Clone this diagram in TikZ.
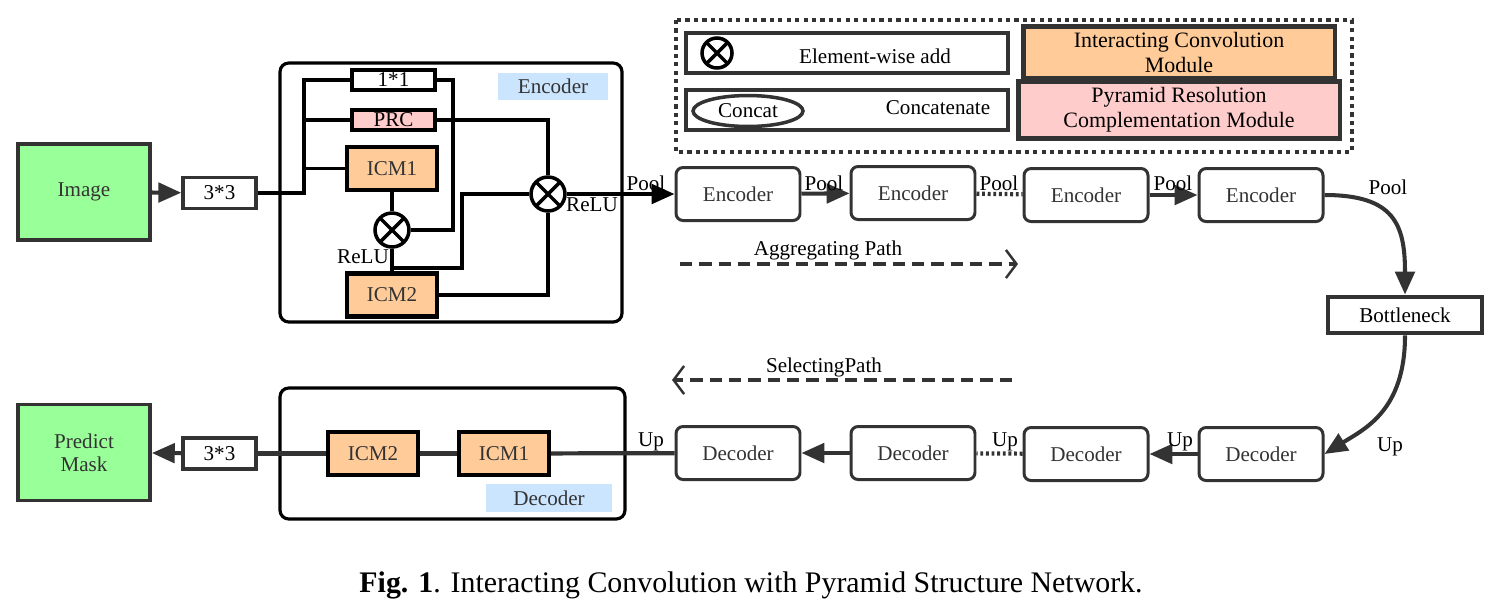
\documentclass[tikz,border=0pt]{standalone}
\usepackage{fontspec}
\setmainfont{Liberation Serif}
\usepackage{tikz}
\usetikzlibrary{shapes,arrows.meta,positioning}

\definecolor{imggreen}{HTML}{99FF99}
\definecolor{icmorange}{HTML}{FFCC99}
\definecolor{prcpink}{HTML}{FFCCCC}
\definecolor{tagblue}{HTML}{CCE5FF}
\definecolor{edge}{HTML}{333333}

\begin{document}
\begin{tikzpicture}[x=0.02cm,y=-0.02cm,font=\fontsize{12}{13}\selectfont,line width=1.6pt,
  >={Triangle[length=13pt,width=11pt]},
  io/.style={draw=edge,line width=2.2pt,fill=imggreen,minimum width=2.64cm,minimum height=1.92cm,align=center,text=edge},
  conv/.style={draw=edge,line width=2pt,minimum width=1.46cm,minimum height=0.62cm,inner sep=0pt},
  thinbox/.style={draw,line width=2pt,minimum width=1.66cm,minimum height=0.4cm,inner sep=0pt},
  icm/.style={draw,line width=2.3pt,fill=icmorange,minimum width=1.8cm,minimum height=0.86cm,text=edge},
  addop/.style={circle,draw,line width=2pt,minimum size=0.68cm,inner sep=0pt,fill=white,
    path picture={\draw[line width=2pt] (path picture bounding box.south west) -- (path picture bounding box.north east)
      (path picture bounding box.north west) -- (path picture bounding box.south east);}},
  stage/.style={draw=edge,rounded corners=4pt,line width=1.7pt,minimum width=2.48cm,minimum height=1.06cm,text=edge},
  tag/.style={fill=tagblue,minimum width=2.3cm,minimum height=0.54cm,text=edge},
  flow/.style={->,line width=2.3pt,draw=edge},
  skip/.style={line width=2.4pt,draw=edge,dash pattern=on 1.6pt off 1.6pt},
  route/.style={line width=1.8pt,draw=edge,dash pattern=on 7pt off 4pt,-{Straight Barb[length=6pt,width=16pt,line width=1.4pt]}},
  legend/.style={draw=edge,line width=2.2pt,minimum width=6.44cm,minimum height=0.8cm}]
\useasboundingbox (0,0) rectangle (1506,610);

% input side
\node[io] (img) at (84,192) {\raisebox{-3pt}{Image}};
\node[conv] (convin) at (219.5,193) {3*3};
\draw[flow] (img) -- (convin);

% encoder block
\draw[line width=1.8pt,rounded corners=5pt] (280,63) rectangle (622,322);
\node[tag,minimum width=2.2cm] (enctag) at (553,86.5) {Encoder};
\node[thinbox] (one) at (393.5,80) {1*1};
\node[thinbox,fill=prcpink] (prc) at (393.5,120) {PRC};
\node[icm] (icma) at (392,168.5) {ICM1};
\node[icm] (icmb) at (392,295) {ICM2};
\node[addop] (adda) at (392,230) {};
\node[addop] (addb) at (548,194) {};
\coordinate (trunk) at (304,193);
\draw[line width=2.2pt] (convin) -- (trunk) |- (one.west);
\draw[line width=2.2pt] (trunk) |- (prc.west);
\draw[line width=2.2pt] (trunk) |- (icma.west);
\draw[line width=2.2pt] (one.east) -- ++(16,0) |- (adda.east);
\draw[line width=2.2pt] (icma) -- (adda);
\draw[line width=2.2pt] (adda) -- (icmb);
\draw[line width=2.2pt] (adda.south) ++(0,19) -- ++(70,0) |- (addb.west);
\draw[line width=2.2pt] (prc.east) -| (addb.north);
\draw[line width=2.2pt] (icmb.east) -| (addb.south);
\node (relua) at (363,257) {ReLU};
\node (relub) at (592,205) {ReLU};

% legend
\draw[line width=2.6pt,draw=edge,dash pattern=on 2.4pt off 2.4pt] (676,20) rectangle (1352,152);
\node[legend] (leadd) at (847,53) {};
\node[addop,minimum size=0.6cm] (leop) at (717,53) {};
\node (leaddtxt) at (875,56) {Element-wise add};
\node[legend] (lecat) at (847,110) {};
\node[ellipse,draw=edge,line width=2pt,minimum width=2.2cm,minimum height=0.62cm,inner sep=0pt] (leell) at (748,111) {\raisebox{-2pt}{Concat}};
\node (lecattxt) at (938,108) {Concatenate};
\node[legend,fill=icmorange,minimum width=6.24cm,minimum height=1.02cm,align=center,line width=2.8pt,font=\fontsize{12.5}{14}\selectfont] (leicm) at (1179,52.5) {Interacting Convolution\\Module};
\node[legend,fill=prcpink,minimum height=1.04cm,align=center,line width=2.8pt,font=\fontsize{12.5}{14}\selectfont] (leprc) at (1179,110) {Pyramid Resolution\\Complementation Module};

% encoder path
\node[stage] (enca) at (738,194) {Encoder};
\node[stage] (encb) at (913,193) {Encoder};
\node[stage] (encc) at (1086,195) {Encoder};
\node[stage] (encd) at (1261,195) {Encoder};
\node[draw=edge,line width=2.8pt,minimum width=3.08cm,minimum height=0.72cm] (bneck) at (1405,315) {Bottleneck};
\draw[flow,draw=black] (addb) -- (enca);
\draw[flow] (enca) -- (encb);
\draw[skip] (encb) -- (encc);
\draw[flow] (encc) -- (encd);
\draw[flow] (encd.east) .. controls +(70,0) and +(0,-70) .. (bneck.north);
\node (poola) at (646,183) {Pool};
\node (poolb) at (824,183) {Pool};
\node (poolc) at (999,183) {Pool};
\node (poold) at (1173,183) {Pool};
\node (poole) at (1388,187) {Pool};

% paths
\coordinate (agfrom) at (680,264);
\coordinate (agto) at (1018,264);
\draw[route] (agfrom) -- (agto);
\node (agtxt) at (828,250) {Aggregating Path};
\coordinate (selfrom) at (1012,380);
\coordinate (selto) at (672,380);
\draw[route] (selfrom) -- (selto);
\node (seltxt) at (824,367) {SelectingPath};

% decoder path
\node[stage] (deca) at (738,453) {Decoder};
\node[stage] (decb) at (913,453) {Decoder};
\node[stage] (decc) at (1086,454) {Decoder};
\node[stage] (decd) at (1261,454) {Decoder};
\draw[flow] (bneck.south) .. controls +(0,75) and +(40,-25) .. (decd.east);
\draw[flow] (decd) -- (decc);
\draw[skip] (decc) -- (decb);
\draw[flow] (decb) -- (deca);
\node (upa) at (651,442) {Up};
\node (upb) at (1005,442) {Up};
\node (upc) at (1180,442) {Up};
\node (upd) at (1390,447) {Up};

% decoder block
\draw[line width=1.8pt,rounded corners=5pt] (280,388) rectangle (625,519);
\node[tag,minimum width=2.52cm,minimum height=0.56cm] (dectag) at (549,498) {Decoder};
\node[icm] (dicmb) at (373,453.5) {ICM2};
\node[icm] (dicma) at (504,453.5) {ICM1};
\node[conv] (convout) at (219.5,453.5) {3*3};
\node[io] (mask) at (84,452.5) {Predict\\Mask};
\draw[line width=2.4pt,draw=edge] (deca) -- (dicma);
\draw[line width=2.4pt,draw=edge] (dicma) -- (dicmb);
\draw[line width=2.4pt,draw=edge] (dicmb) -- (convout);
\draw[flow] (convout) -- (mask);

% caption
\node (cap) at (751,585) {\fontsize{17}{19}\selectfont\textbf{Fig. 1}. Interacting Convolution with Pyramid Structure Network.};
\end{tikzpicture}
\end{document}
